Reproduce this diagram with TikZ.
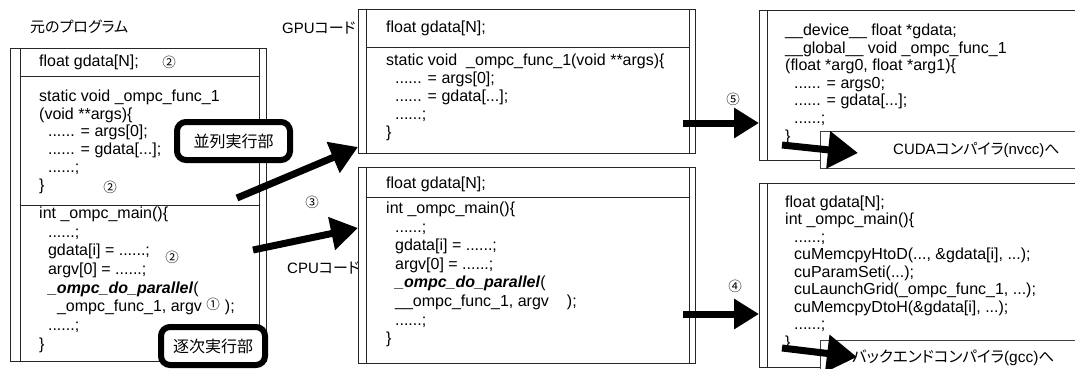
\documentclass[tikz,border=0pt]{standalone}
\usepackage{fontspec}
\setmainfont{Liberation Sans}
\newfontfamily\jp[RawFeature=+palt]{Noto Sans CJK JP}
\newfontfamily\circfont{Noto Sans CJK JP}
\usetikzlibrary{arrows.meta}
\newcommand\codeind{\hspace*{8.9pt}}
\tikzset{
  box/.style={draw=black!85, line width=0.8pt, inner sep=0pt},
  rule/.style={draw=black!85, line width=0.8pt},
  code/.style={inner sep=0pt, anchor=north west, align=left, font=\fontsize{16}{#1}\selectfont},
  codeline/.style={inner sep=0pt, anchor=west, font=\fontsize{16}{18}\selectfont},
  circnum/.style={inner sep=0pt, font=\circfont\fontsize{13.5}{13.5}\selectfont},
  title/.style={inner sep=0pt, anchor=west, font=\fontsize{15}{15}\selectfont},
  bigarrow/.style={line width=7pt, -{Triangle[length=27pt,width=32pt]}},
  tag/.style={draw=black, line width=6pt, rounded corners=9pt, fill=white, inner sep=0pt,
    font=\jp\fontsize{16}{16}\selectfont},
  lblbox/.style={draw=black!75, line width=0.8pt, fill=white},
  lbltext/.style={inner sep=0pt, anchor=west, font=\fontsize{15}{16}\selectfont}
}
\begin{document}
\begin{tikzpicture}[x=1pt,y=-1pt]
\path[use as bounding box] (0,0) rectangle (1075,369);
\clip (0,0) rectangle (1075,369);

% ---------- titles
\node[title] (ttl) at (30,27) {\jp 元のプログラム};
\node[title] (gpulbl) at (282,28) {GPU{\jp コード}};
\node[title] (cpulbl) at (287,268) {CPU{\jp コード}};

% ---------- original program box
\node[box, anchor=north west, minimum width=256pt, minimum height=313pt] (orig) at (10,48) {};
\draw[rule] (20,48) -- (20,361) (259,48) -- (259,361) (20,76) -- (259,76) (20,205) -- (259,205);
\node[codeline] (o1) at (39,62) {float gdata[N];};
\node[code=17.8] (o2) at (39,88.7) {\strut static void \_ompc\_func\_1\\(void **args)\{\\\codeind...... = args[0];\\\codeind...... = gdata[...];\\\codeind......;\\\}};
\node[code=18.7] (o3) at (39,205.1) {\strut int \_ompc\_main()\{\\\codeind......;\\\codeind gdata[i] = ......;\\\codeind argv[0] = ......;\\\codeind\textbf{\textit{\_ompc\_do\_parallel}}(\\\codeind\codeind\_ompc\_func\_1, argv\hspace{23pt});\\\codeind......;\\\}};
\node[circnum] (n2a) at (169,62) {②};
\node[circnum] (n2b) at (110,187) {②};
\node[circnum] (n2c) at (172,257) {②};
\node[circnum] (n1) at (213,304) {①};

% ---------- GPU code box
\node[box, anchor=north west, minimum width=337pt, minimum height=144pt] (gpu) at (358,9) {};
\draw[rule] (366,9) -- (366,153) (689,9) -- (689,153) (366,47) -- (689,47);
\node[codeline] (g1) at (386,28) {float gdata[N];};
\node[code=18] (g2) at (386,52.6) {\strut static void\ \ \_ompc\_func\_1(void **args)\{\\\codeind...... = args[0];\\\codeind...... = gdata[...];\\\codeind......;\\\}};

% ---------- CPU code box
\node[box, anchor=north west, minimum width=337pt, minimum height=196pt] (cpu) at (358,167) {};
\draw[rule] (366,167) -- (366,363) (689,167) -- (689,363) (366,197) -- (689,197);
\node[codeline] (p1) at (386,184) {float gdata[N];};
\node[code=18.6] (p2) at (386,200.2) {\strut int \_ompc\_main()\{\\\codeind......;\\\codeind gdata[i] = ......;\\\codeind argv[0] = ......;\\\codeind\textbf{\textit{\_ompc\_do\_parallel}}(\\\codeind\_\_ompc\_func\_1, argv\hspace{18pt});\\\codeind......;\\\}};

% ---------- CUDA box (top right)
\node[box, anchor=north west, minimum width=330pt, minimum height=150pt] (cuda) at (759,10) {};
\draw[rule] (767,10) -- (767,160);
\node[code=17.6] (k1) at (785,22.9) {\strut\_\_device\_\_ float *gdata;\\\_\_global\_\_ void \_ompc\_func\_1\\(float *arg0, float *arg1)\{\\\codeind...... = args0;\\\codeind...... = gdata[...];\\\codeind......;\\\}};

% ---------- host box (bottom right)
\node[box, anchor=north west, minimum width=330pt, minimum height=184pt] (host) at (759,183) {};
\draw[rule] (767,183) -- (767,367);
\node[code=17.5] (h1) at (785,195) {\strut float gdata[N];\\int \_ompc\_main()\{\\\codeind......;\\\codeind cuMemcpyHtoD(..., \&gdata[i], ...);\\\codeind cuParamSeti(...);\\\codeind cuLaunchGrid(\_ompc\_func\_1, ...);\\\codeind cuMemcpyDtoH(\&gdata[i], ...);\\\codeind......;\\\}};

% ---------- compiler label boxes
\node[lblbox, anchor=north west, minimum width=270pt, minimum height=37pt] (nvccbox) at (820,131) {};
\node[lbltext] (nvcc) at (893,150) {CUDA{\jp コンパイラ}(nvcc){\jp へ}};
\node[lblbox, anchor=north west, minimum width=270pt, minimum height=40pt] (gccbox) at (820,340) {};
\node[lbltext, font=\fontsize{15.5}{16}\selectfont] (gcc) at (852,358) {{\jp バックエンドコンパイラ}(gcc){\jp へ}};

% ---------- tags
\node[tag, minimum width=113pt, minimum height=38pt] (par) at (233.5,141) {並列実行部};
\node[tag, minimum width=104pt, minimum height=38pt] (seq) at (213,346) {逐次実行部};

% ---------- circled step numbers
\node[circnum] (n3) at (312,202) {③};
\node[circnum] (n5) at (733,99) {⑤};
\node[circnum] (n4) at (735,286) {④};

% ---------- arrows
\coordinate (a1s) at (237,198);
\coordinate (a1e) at (358,147);
\coordinate (a2s) at (253,250);
\coordinate (a2e) at (358,228);
\coordinate (a5s) at (683,123);
\coordinate (a5e) at (759,123);
\coordinate (a4s) at (683,314);
\coordinate (a4e) at (759,314);
\coordinate (a6s) at (782,145);
\coordinate (a6e) at (858,153);
\coordinate (a7s) at (782,348);
\coordinate (a7e) at (857,357);
\draw[bigarrow] (a1s) -- (a1e);
\draw[bigarrow] (a2s) -- (a2e);
\draw[bigarrow, -{Triangle[length=25pt,width=29pt]}] (a5s) -- (a5e);
\draw[bigarrow, -{Triangle[length=25pt,width=29pt]}] (a4s) -- (a4e);
\draw[bigarrow, -{Triangle[length=30pt,width=36pt]}] (a6s) -- (a6e);
\draw[bigarrow, -{Triangle[length=30pt,width=36pt]}] (a7s) -- (a7e);
\end{tikzpicture}
\end{document}
